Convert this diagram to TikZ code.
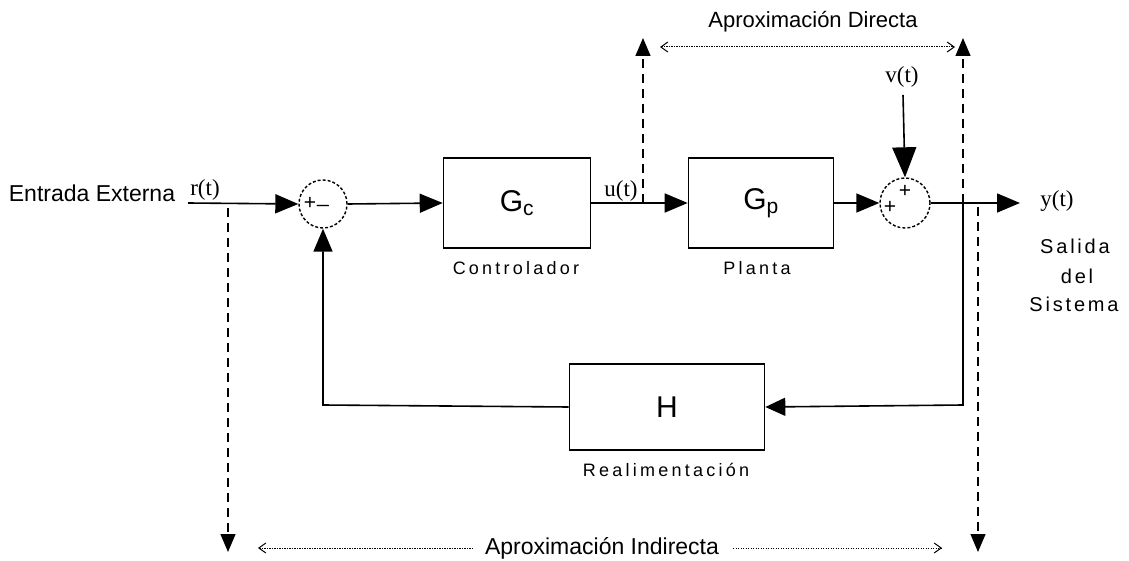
\documentclass[tikz,border=0pt]{standalone}
\usepackage{fontspec}
\setmainfont{Liberation Sans}
\newfontfamily\sigfont{Liberation Serif}
\usetikzlibrary{arrows.meta}
\begin{document}
\begin{tikzpicture}[x=1pt,y=-1pt,
  blk/.style={draw, line width=1.6pt, inner sep=0pt, font=\fontsize{30}{32}\selectfont},
  sumc/.style={draw, circle, dashed, dash pattern=on 3pt off 2pt, line width=1.4pt, minimum size=48pt, inner sep=0pt},
  sig/.style={line width=1.6pt, -{Triangle[length=23pt,width=19pt]}},
  bigsig/.style={line width=1.6pt, -{Triangle[length=30pt,width=24pt]}},
  wire/.style={line width=1.6pt},
  dsh/.style={line width=1.4pt, dash pattern=on 9pt off 6pt, -{Triangle[length=18pt,width=15pt]}},
  dotarr/.style={line width=1pt, dash pattern=on 1.2pt off 1.3pt, {Straight Barb[length=7pt,width=10pt]}-{Straight Barb[length=7pt,width=10pt]}},
  lbl/.style={inner sep=0pt, font=\fontsize{23}{25}\selectfont},
  sp/.style={inner sep=0pt, font=\fontsize{18}{20}\selectfont\addfontfeature{LetterSpace=18}},
  spo/.style={inner sep=0pt, font=\fontsize{20}{22}\selectfont\addfontfeature{LetterSpace=14}},
  sgn/.style={inner sep=0pt, font=\fontsize{21}{21}\selectfont},
  sl/.style={inner sep=0pt, font=\fontsize{23}{25}\sigfont}
]
\useasboundingbox (0,0) rectangle (1129,561);

% blocks
\node[blk, minimum width=147pt, minimum height=90pt] (gc) at (517,203) {G\textsubscript{c}};
\node[blk, minimum width=145pt, minimum height=90pt] (gp) at (761,203) {G\textsubscript{p}};
\node[blk, minimum width=195pt, minimum height=86pt] (h) at (667,407) {H};
\node[sumc] (s1) at (323,204) {};
\node[sumc, minimum size=50pt] (s2) at (905,203) {};

% signs
\node[sgn] (s1p) at (310,203) {+};
\node[sgn] (s1m) at (323,205) {\_};
\node[sgn] (s2p) at (890,207) {+};
\node[sgn] (s2t) at (905,191) {+};

% labels
\node[lbl] (ent) at (92,193) {Entrada Externa};
\node[sl] (rt) at (205,190) {r(t)};
\node[sl] (ut) at (621,191) {u(t)};
\node[sl] (vt) at (902,77) {v(t)};
\node[sl] (yt) at (1057,201) {y(t)};
\node[sp] (ctl) at (516,268) {Controlador};
\node[sp] (pla) at (757,268) {Planta};
\node[sp] (rea) at (666,470) {Realimentación};
\node[spo] (sal1) at (1075,246) {Salida};
\node[spo] (sal2) at (1077,276) {del};
\node[spo] (sal3) at (1074,304) {Sistema};
\node[inner sep=0pt, font=\fontsize{22}{24}\selectfont] (apd) at (813,22) {Aproximación Directa};
\node[inner sep=0pt, font=\fontsize{23}{25}\selectfont] (api) at (602,548) {Aproximación Indirecta};

% coordinates
\coordinate (rin) at (188,203);
\coordinate (yout) at (1020,203);
\coordinate (vin) at (903,95);
\coordinate (br) at (963,203);
\coordinate (brd) at (963,405);
\coordinate (fbl) at (323,405);
\coordinate (uD) at (643,203);
\coordinate (uU) at (643,38);
\coordinate (rD) at (963,203);
\coordinate (rU) at (963,38);
\coordinate (lD0) at (228,208);
\coordinate (lD1) at (228,552);
\coordinate (rD0) at (978,207);
\coordinate (rD1) at (978,552);
\coordinate (ta) at (660,47);
\coordinate (tb) at (955,47);
\coordinate (ba) at (258,548);
\coordinate (bb) at (472,548);
\coordinate (bc) at (733,548);
\coordinate (bd) at (942,548);

% signal flow
\draw[sig] (rin) -- (s1.west);
\draw[sig] (s1.east) -- (gc.west);
\draw[sig] (gc.east) -- (gp.west);
\draw[sig] (gp.east) -- (s2.west);
\draw[sig] (s2.east) -- (yout);
\draw[bigsig] (vin) -- (s2.north);
\draw[wire, -{Triangle[length=20pt,width=18pt]}] (br) -- (brd) -- (h.east);
\draw[sig] (h.west) -- (fbl) -- (s1.south);

% dashed approximations
\draw[dsh] (uD) -- (uU);
\draw[dsh] (rD) -- (rU);
\draw[dsh] (lD0) -- (lD1);
\draw[dsh] (rD0) -- (rD1);
\draw[dotarr] (ta) -- (tb);
\draw[line width=1pt, dash pattern=on 1.2pt off 1.3pt, {Straight Barb[length=7pt,width=10pt]}-] (ba) -- (bb);
\draw[line width=1pt, dash pattern=on 1.2pt off 1.3pt, -{Straight Barb[length=7pt,width=10pt]}] (bc) -- (bd);
\end{tikzpicture}
\end{document}
